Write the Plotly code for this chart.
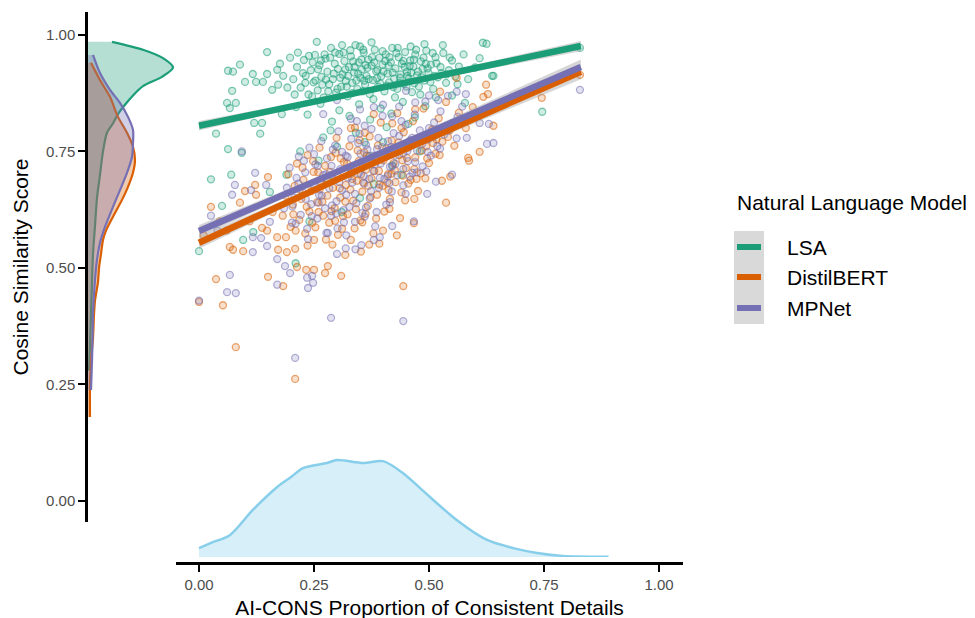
import plotly.graph_objects as go

# ---------------- data ----------------
models = ["LSA", "DistilBERT", "MPNet"]
colors = ["#1B9E77", "#D95F02", "#7570B3"]
rgb = ["27,158,119", "217,95,2", "117,112,179"]

lsa_points = [
    (0.148,0.963),(0.089,0.936),(0.063,0.923),(0.074,0.921),(0.117,0.916),(0.100,0.899),(0.124,0.899),
    (0.072,0.880),(0.061,0.854),(0.080,0.854),(0.067,0.843),(0.198,0.951),(0.176,0.938),(0.170,0.925),
    (0.148,0.916),(0.139,0.899),(0.159,0.882),(0.172,0.893),
    (0.205,0.905),(0.213,0.931),(0.221,0.887),(0.228,0.946),(0.232,0.912),(0.238,0.872),(0.243,0.924),
    (0.249,0.898),(0.252,0.957),(0.258,0.881),(0.262,0.935),(0.266,0.910),(0.271,0.866),(0.275,0.949),
    (0.279,0.921),(0.283,0.894),(0.287,0.972),(0.291,0.905),(0.295,0.938),(0.298,0.876),(0.302,0.927),
    (0.305,0.959),(0.309,0.889),(0.312,0.915),(0.316,0.944),(0.319,0.901),(0.323,0.868),(0.326,0.931),
    (0.330,0.954),(0.333,0.897),(0.337,0.919),(0.340,0.978),(0.344,0.884),(0.347,0.941),(0.351,0.908),
    (0.354,0.926),(0.358,0.962),(0.361,0.893),(0.364,0.912),(0.368,0.947),(0.371,0.873),(0.375,0.934),
    (0.378,0.903),(0.382,0.968),(0.385,0.922),(0.389,0.889),(0.392,0.951),(0.396,0.911),(0.399,0.936),
    (0.403,0.879),(0.406,0.958),(0.410,0.917),(0.413,0.898),(0.417,0.941),(0.420,0.972),(0.424,0.906),
    (0.427,0.928),(0.431,0.884),(0.434,0.952),(0.438,0.915),(0.441,0.938),(0.445,0.895),(0.448,0.963),
    (0.452,0.921),(0.456,0.906),(0.459,0.945),(0.463,0.877),(0.466,0.932),(0.470,0.958),(0.474,0.913),
    (0.478,0.889),(0.482,0.943),(0.486,0.927),(0.490,0.902),(0.494,0.966),(0.499,0.918),(0.504,0.936),
    (0.509,0.884),(0.514,0.952),(0.519,0.909),(0.525,0.931),(0.531,0.961),(0.537,0.897),(0.543,0.924),
    (0.550,0.945),(0.557,0.911),(0.565,0.932),(0.575,0.958),
    (0.226,0.918),(0.247,0.941),(0.268,0.893),(0.293,0.917),(0.318,0.926),(0.342,0.902),(0.366,0.929),
    (0.387,0.907),(0.412,0.934),(0.436,0.897),(0.461,0.919),(0.488,0.951),(0.512,0.912),(0.285,0.951),
    (0.335,0.943),(0.376,0.952),(0.422,0.888),(0.468,0.896),(0.253,0.902),(0.301,0.884),(0.356,0.879),
    (0.401,0.921),(0.447,0.931),(0.497,0.928),(0.538,0.915),
    (0.215,0.962),(0.231,0.897),(0.246,0.868),(0.259,0.926),(0.273,0.958),(0.281,0.879),(0.296,0.962),
    (0.307,0.908),(0.321,0.889),(0.329,0.967),(0.338,0.931),(0.346,0.917),(0.353,0.947),(0.362,0.935),
    (0.369,0.905),(0.381,0.941),(0.388,0.925),(0.394,0.896),(0.405,0.944),(0.414,0.952),(0.421,0.919),
    (0.429,0.961),(0.437,0.908),(0.444,0.944),(0.451,0.889),(0.458,0.933),(0.467,0.947),(0.476,0.921),
    (0.484,0.909),(0.493,0.938),(0.503,0.899),(0.516,0.939),(0.527,0.918),(0.545,0.951),(0.562,0.894),
    (0.183,0.912),(0.192,0.887),(0.208,0.872),(0.239,0.955),(0.265,0.945),(0.314,0.962),(0.357,0.968),
    (0.399,0.965),(0.432,0.972),(0.472,0.968),(0.508,0.961),(0.333,0.875),(0.379,0.862),(0.426,0.866),
    (0.481,0.872),(0.276,0.904),(0.324,0.912),(0.359,0.902),(0.408,0.891),(0.453,0.912),
    (0.617,0.983),(0.625,0.981),(0.828,0.972),(0.637,0.912),(0.585,0.905),(0.578,0.854),(0.640,0.912),
    (0.746,0.835),(0.600,0.930),(0.610,0.950),
    (0.256,0.985),(0.311,0.978),(0.375,0.984),(0.350,0.975),(0.460,0.975),(0.530,0.978),(0.490,0.980),
    (0.211,0.845),(0.236,0.829),(0.264,0.852),(0.289,0.814),(0.305,0.838),(0.327,0.826),(0.348,0.851),
    (0.372,0.818),(0.395,0.842),(0.418,0.831),(0.443,0.856),(0.469,0.823),(0.492,0.847),(0.515,0.866),
    (0.286,0.795),(0.341,0.790),(0.408,0.802),(0.455,0.809),(0.120,0.811),(0.137,0.811),(0.133,0.788),
    (0.037,0.788),(0.180,0.830),(0.550,0.870),
    (0.000,0.536),(0.026,0.690),(0.070,0.700),(0.050,0.633),(0.096,0.560),(0.118,0.577),(0.210,0.510),
    (0.154,0.663),(0.350,0.650),(0.063,0.755),(0.093,0.747),(0.220,0.750),(0.260,0.730),(0.300,0.760),
    (0.330,0.710),(0.370,0.740),(0.400,0.770),(0.420,0.720),(0.450,0.760),(0.280,0.690),(0.380,0.680),
    (0.310,0.620),(0.240,0.600),(0.190,0.700),(0.440,0.700),(0.480,0.750),(0.360,0.770),(0.270,0.780),
]

bert_points = [
    (0.026,0.631),(0.089,0.640),(0.100,0.665),(0.124,0.657),(0.122,0.678),(0.150,0.695),(0.074,0.539),
    (0.067,0.545),(0.096,0.536),(0.137,0.586),(0.148,0.580),(0.170,0.566),(0.189,0.566),(0.172,0.539),
    (0.191,0.534),(0.209,0.541),(0.213,0.502),(0.233,0.496),(0.250,0.496),(0.280,0.504),(0.274,0.489),
    (0.309,0.483),(0.037,0.476),(0.150,0.481),(0.183,0.461),(0.000,0.427),(0.052,0.420),(0.080,0.330),
    (0.209,0.262),(0.468,0.648),(0.537,0.640),(0.467,0.596),(0.444,0.461),(0.437,0.607),(0.528,0.687),
    (0.546,0.696),(0.587,0.730),(0.476,0.665),(0.828,0.914),(0.745,0.865),(0.624,0.893),(0.628,0.873),
    (0.618,0.867),(0.560,0.908),(0.524,0.878),(0.640,0.805),(0.610,0.749),(0.585,0.736),(0.010,0.570),
    (0.045,0.600),(0.060,0.580),(0.110,0.600),(0.160,0.620),
    (0.182,0.612),(0.188,0.655),(0.194,0.701),(0.199,0.588),(0.204,0.636),(0.208,0.676),(0.213,0.724),
    (0.218,0.603),(0.222,0.648),(0.227,0.689),(0.231,0.574),(0.236,0.742),(0.240,0.621),(0.244,0.665),
    (0.249,0.706),(0.253,0.587),(0.257,0.641),(0.262,0.758),(0.266,0.683),(0.270,0.612),(0.274,0.719),
    (0.279,0.655),(0.283,0.597),(0.287,0.738),(0.291,0.672),(0.295,0.628),(0.299,0.779),(0.303,0.696),
    (0.307,0.651),(0.311,0.584),(0.315,0.727),(0.319,0.678),(0.323,0.615),(0.327,0.761),(0.331,0.702),
    (0.335,0.644),(0.339,0.801),(0.343,0.687),(0.347,0.729),(0.351,0.602),(0.355,0.664),(0.359,0.748),
    (0.363,0.711),(0.367,0.633),(0.371,0.782),(0.375,0.692),(0.379,0.574),(0.383,0.739),(0.387,0.657),
    (0.391,0.708),(0.395,0.812),(0.399,0.676),(0.403,0.621),(0.407,0.756),(0.411,0.701),(0.415,0.648),
    (0.419,0.773),(0.423,0.725),(0.427,0.684),(0.431,0.832),(0.435,0.742),(0.440,0.662),(0.445,0.791),
    (0.450,0.714),(0.455,0.758),(0.460,0.689),(0.465,0.815),(0.470,0.737),(0.476,0.779),(0.482,0.703),
    (0.488,0.842),(0.494,0.761),(0.500,0.725),(0.507,0.797),(0.514,0.745),(0.521,0.821),(0.529,0.771),
    (0.537,0.856),(0.545,0.795),(0.555,0.762),(0.565,0.833),(0.580,0.800),(0.595,0.845),
    (0.262,0.668),(0.285,0.706),(0.308,0.735),(0.329,0.668),(0.352,0.701),(0.374,0.725),(0.396,0.744),
    (0.418,0.702),(0.442,0.731),(0.468,0.712),(0.492,0.692),(0.516,0.776),(0.345,0.752),(0.318,0.642),
    (0.296,0.601),(0.368,0.676),(0.412,0.667),(0.389,0.763),(0.455,0.681),(0.248,0.729),(0.225,0.715),
    (0.355,0.598),(0.330,0.560),(0.290,0.550),(0.370,0.550),(0.400,0.580),(0.430,0.570),(0.250,0.560),
    (0.205,0.615),(0.219,0.668),(0.234,0.631),(0.246,0.597),(0.259,0.705),(0.268,0.642),(0.277,0.688),
    (0.288,0.622),(0.297,0.747),(0.306,0.671),(0.313,0.611),(0.322,0.724),(0.333,0.691),(0.341,0.626),
    (0.349,0.774),(0.357,0.683),(0.365,0.741),(0.373,0.652),(0.381,0.708),(0.392,0.679),(0.401,0.731),
    (0.409,0.683),(0.417,0.745),(0.426,0.709),(0.434,0.769),(0.443,0.698),(0.452,0.736),(0.462,0.765),
    (0.473,0.691),(0.484,0.752),(0.496,0.735),(0.509,0.768),(0.523,0.742),(0.541,0.781),(0.561,0.811),
    (0.302,0.571),(0.338,0.585),(0.362,0.616),(0.385,0.606),(0.414,0.627),(0.448,0.645),(0.276,0.561),
    (0.236,0.548),(0.318,0.528),(0.352,0.535),(0.392,0.552),(0.210,0.580),(0.260,0.620),(0.330,0.800),
    (0.380,0.830),(0.420,0.810),(0.470,0.840),(0.500,0.780),(0.440,0.800),(0.360,0.790),
]

mpnet_points = [
    (0.026,0.612),(0.072,0.657),(0.113,0.667),(0.078,0.678),(0.122,0.704),(0.146,0.678),(0.117,0.534),
    (0.117,0.566),(0.135,0.564),(0.154,0.599),(0.148,0.547),(0.170,0.519),(0.187,0.504),(0.198,0.489),
    (0.235,0.479),(0.246,0.483),(0.248,0.468),(0.237,0.457),(0.067,0.485),(0.170,0.464),(0.061,0.448),
    (0.080,0.446),(0.287,0.393),(0.209,0.307),(0.444,0.386),(0.496,0.659),(0.515,0.685),(0.550,0.700),
    (0.467,0.600),(0.828,0.882),(0.560,0.878),(0.580,0.873),(0.630,0.809),(0.610,0.811),(0.582,0.779),
    (0.626,0.766),(0.640,0.768),(0.093,0.750),(0.040,0.580),(0.000,0.430),
    (0.300,0.860),(0.350,0.840),(0.450,0.880),(0.500,0.870),(0.400,0.850),(0.520,0.860),(0.270,0.830),
    (0.185,0.628),(0.191,0.672),(0.197,0.715),(0.202,0.597),(0.207,0.651),(0.212,0.693),(0.217,0.739),
    (0.221,0.614),(0.226,0.662),(0.231,0.705),(0.235,0.584),(0.240,0.758),(0.244,0.637),(0.248,0.681),
    (0.253,0.722),(0.257,0.606),(0.261,0.657),(0.266,0.772),(0.270,0.699),(0.274,0.628),(0.278,0.735),
    (0.283,0.671),(0.287,0.612),(0.291,0.754),(0.295,0.688),(0.299,0.643),(0.303,0.793),(0.307,0.712),
    (0.311,0.667),(0.315,0.598),(0.319,0.741),(0.323,0.694),(0.327,0.631),(0.331,0.777),(0.335,0.718),
    (0.339,0.659),(0.343,0.815),(0.347,0.703),(0.351,0.745),(0.355,0.618),(0.359,0.681),(0.363,0.764),
    (0.367,0.727),(0.371,0.649),(0.375,0.798),(0.379,0.708),(0.383,0.589),(0.387,0.755),(0.391,0.672),
    (0.395,0.724),(0.399,0.826),(0.403,0.691),(0.407,0.636),(0.411,0.772),(0.415,0.717),(0.419,0.664),
    (0.423,0.789),(0.427,0.741),(0.431,0.699),(0.435,0.846),(0.439,0.758),(0.444,0.677),(0.449,0.807),
    (0.454,0.729),(0.459,0.774),(0.464,0.704),(0.469,0.829),(0.474,0.752),(0.480,0.795),(0.486,0.718),
    (0.492,0.857),(0.498,0.776),(0.504,0.741),(0.511,0.812),(0.518,0.761),(0.525,0.836),(0.533,0.786),
    (0.541,0.869),(0.550,0.810),(0.560,0.778),(0.572,0.846),(0.590,0.820),
    (0.264,0.684),(0.288,0.719),(0.311,0.749),(0.333,0.683),(0.356,0.716),(0.377,0.741),(0.398,0.759),
    (0.420,0.718),(0.444,0.746),(0.470,0.727),(0.494,0.707),(0.518,0.790),(0.346,0.768),(0.320,0.657),
    (0.298,0.617),(0.370,0.691),(0.414,0.682),(0.390,0.779),(0.458,0.696),(0.250,0.744),(0.228,0.730),
    (0.360,0.610),(0.320,0.570),(0.280,0.575),(0.380,0.560),(0.420,0.590),(0.300,0.530),(0.340,0.540),
    (0.203,0.632),(0.216,0.681),(0.232,0.648),(0.245,0.611),(0.258,0.719),(0.267,0.655),(0.276,0.701),
    (0.289,0.634),(0.296,0.763),(0.305,0.684),(0.314,0.624),(0.323,0.738),(0.332,0.705),(0.342,0.639),
    (0.349,0.788),(0.358,0.697),(0.366,0.754),(0.374,0.665),(0.382,0.722),(0.393,0.693),(0.402,0.745),
    (0.410,0.697),(0.418,0.759),(0.427,0.723),(0.435,0.783),(0.444,0.712),(0.453,0.751),(0.463,0.779),
    (0.474,0.705),(0.485,0.766),(0.497,0.749),(0.510,0.782),(0.524,0.756),(0.542,0.795),(0.562,0.824),
    (0.301,0.585),(0.339,0.599),(0.363,0.630),(0.386,0.620),(0.415,0.641),(0.449,0.659),(0.277,0.575),
    (0.237,0.562),(0.319,0.542),(0.353,0.549),(0.393,0.566),(0.210,0.595),(0.260,0.640),(0.330,0.820),
    (0.380,0.845),(0.420,0.825),(0.470,0.855),(0.500,0.800),(0.440,0.815),(0.360,0.805),
]

# fitted regression lines (lm) with standard-error half widths
fit_x = [0.0, 0.35, 0.83]
fit_lsa = [0.805, 0.877, 0.976]
fit_bert = [0.554, 0.712, 0.921]
fit_mpnet = [0.579, 0.728, 0.931]
se_lsa = [0.010, 0.003, 0.011]
se_bert = [0.013, 0.004, 0.016]
se_mpnet = [0.013, 0.004, 0.016]

# marginal density of the similarity score for each model
lsa_dens_at = [0.28, 0.33, 0.40, 0.47, 0.53, 0.59, 0.65, 0.70, 0.75, 0.79, 0.81, 0.83, 0.85, 0.87,
               0.89, 0.91, 0.93, 0.95, 0.968, 0.985]
lsa_dens = [0.11, 0.22, 0.33, 0.44, 0.55, 0.77, 0.99, 1.32, 1.65, 2.09, 2.75, 3.30, 4.07, 4.95,
            6.05, 8.14, 9.35, 8.25, 6.05, 2.64]
bert_dens_at = [0.18, 0.25, 0.30, 0.35, 0.40, 0.43, 0.47, 0.50, 0.53, 0.56, 0.58, 0.61, 0.646, 0.674,
                0.704, 0.732, 0.76, 0.79, 0.824, 0.867, 0.903, 0.94]
bert_dens = [0.22, 0.22, 0.33, 0.55, 0.66, 0.77, 1.10, 1.21, 1.43, 1.65, 1.98, 2.75, 3.74, 4.40,
             4.95, 5.17, 4.95, 4.29, 3.30, 2.42, 1.32, 0.33]
mpnet_dens_at = [0.238, 0.30, 0.35, 0.403, 0.474, 0.517, 0.554, 0.588, 0.631, 0.667, 0.704, 0.738,
                 0.768, 0.796, 0.824, 0.854, 0.882, 0.918, 0.957]
mpnet_dens = [0.33, 0.44, 0.50, 0.55, 0.77, 0.99, 1.32, 1.87, 2.75, 3.52, 4.29, 4.84, 4.95, 4.95,
              4.40, 3.52, 2.42, 1.32, 0.55]

# marginal density of AI-CONS proportion
cons_at = [0.0, 0.03, 0.067, 0.117, 0.17, 0.20, 0.226, 0.278, 0.30, 0.357, 0.40, 0.443, 0.502, 0.56,
           0.626, 0.683, 0.735, 0.79, 0.89]
cons_dens = [0.24, 0.40, 0.59, 1.27, 1.89, 2.16, 2.40, 2.54, 2.62, 2.54, 2.59, 2.27, 1.62, 1.00,
             0.46, 0.24, 0.11, 0.03, 0.01]

x_ticks = [0.0, 0.25, 0.5, 0.75, 1.0]
y_ticks = [0.0, 0.25, 0.5, 0.75, 1.0]
tick_text = ["0.00", "0.25", "0.50", "0.75", "1.00"]

point_sets = [lsa_points, bert_points, mpnet_points]
fits = [fit_lsa, fit_bert, fit_mpnet]
ses = [se_lsa, se_bert, se_mpnet]
dens_at = [lsa_dens_at, bert_dens_at, mpnet_dens_at]
dens = [lsa_dens, bert_dens, mpnet_dens]

FONT = "Liberation Sans, Arial, Helvetica, sans-serif"
fig = go.Figure()

# scatter points
for name, pts, c in zip(models, point_sets, rgb):
    fig.add_trace(go.Scatter(
        x=[p[0] for p in pts], y=[p[1] for p in pts], mode="markers", name=name,
        marker=dict(size=7, color=f"rgba({c},0.2)", line=dict(color=f"rgba({c},0.55)", width=1.3)),
        showlegend=False, hoverinfo="skip", xaxis="x", yaxis="y"))

# standard-error bands and fitted lines
for f, s in zip(fits, ses):
    upper = [a + b for a, b in zip(f, s)]
    lower = [a - b for a, b in zip(f, s)]
    fig.add_trace(go.Scatter(
        x=fit_x + fit_x[::-1], y=upper + lower[::-1], fill="toself",
        fillcolor="rgba(153,153,153,0.4)", line=dict(width=0), mode="lines",
        showlegend=False, hoverinfo="skip"))
for name, f, col in zip(models, fits, colors):
    fig.add_trace(go.Scatter(x=fit_x, y=f, mode="lines", line=dict(color=col, width=6.5),
                             showlegend=False, hoverinfo="skip"))

# y marginal densities
for name, at, d, col, c in zip(models, dens_at, dens, colors, rgb):
    fig.add_trace(go.Scatter(
        x=d, y=at, mode="lines", fill="tozerox", fillcolor=f"rgba({c},0.33)",
        line=dict(color=col, width=2.2, shape="spline", smoothing=0.8),
        xaxis="x2", yaxis="y", showlegend=False, hoverinfo="skip"))

# x marginal density
fig.add_trace(go.Scatter(
    x=cons_at, y=cons_dens, mode="lines", fill="tozeroy", fillcolor="rgba(135,206,235,0.33)",
    line=dict(color="#87CEEB", width=2.5, shape="spline", smoothing=0.8),
    xaxis="x", yaxis="y3", showlegend=False, hoverinfo="skip"))

# layout helpers: the page puts the figure at an 8 px body offset, so the
# plot area spans page pixels x 86..683, y 12..563 (figure pixels minus 8)
OFF = 8
L, T = 86 - OFF, 12 - OFF
FW, FH = 975, 618
R, B = FW - (683 - OFF), FH - (563 - OFF)
W, H = FW - L - R, FH - T - B
def px(xp):
    return (xp - OFF - L) / W
def py(yp):
    return (FH - B - (yp - OFF)) / H

axis_common = dict(showgrid=False, zeroline=False, showline=True, linecolor="black", linewidth=2.5,
                   ticks="outside", ticklen=7, tickwidth=2, tickcolor="black", automargin=False,
                   tickfont=dict(family=FONT, size=15, color="#4D4D4D"))

fig.update_layout(
    width=FW, height=FH, plot_bgcolor="white", paper_bgcolor="white",
    margin=dict(l=L, r=R, t=T, b=B, autoexpand=False), showlegend=False,
    font=dict(family=FONT),
    xaxis=dict(domain=[px(176), 1], range=[-0.05, 1.052], anchor="free", position=0,
               tickvals=x_ticks, ticktext=tick_text,
               title=dict(text="AI-CONS Proportion of Consistent Details",
                          font=dict(family=FONT, size=21, color="black"), standoff=8),
               **axis_common),
    yaxis=dict(domain=[py(522), 1], range=[-0.045, 1.049], anchor="free", position=0,
               tickvals=y_ticks, ticktext=tick_text,
               title=dict(text="Cosine Similarity Score",
                          font=dict(family=FONT, size=21, color="black"), standoff=10),
               **axis_common),
    xaxis2=dict(domain=[0, px(176)], range=[-0.22, 9.68], visible=False, anchor="y"),
    yaxis3=dict(domain=[py(557), py(440)], range=[0, 3.16], visible=False, anchor="x"),
)

# legend drawn as shapes + text (ggplot-style keys with grey SE background)
fig.add_shape(type="rect", xref="paper", yref="paper", x0=px(734), x1=px(764), y0=py(324), y1=py(231),
              fillcolor="#D9D9D9", line=dict(width=0), layer="below")
fig.add_annotation(text="Natural Language Model", xref="paper", yref="paper", x=px(735), y=py(202),
                   xanchor="left", yanchor="middle", showarrow=False,
                   font=dict(family=FONT, size=21, color="black"))
for name, col, yk in zip(models, colors, [247, 277, 308]):
    fig.add_shape(type="line", xref="paper", yref="paper", x0=px(737), x1=px(761), y0=py(yk), y1=py(yk),
                  line=dict(color=col, width=6))
    fig.add_annotation(text=name, xref="paper", yref="paper", x=px(785), y=py(yk),
                       xanchor="left", yanchor="middle", showarrow=False,
                       font=dict(family=FONT, size=21, color="black"))

fig.write_html("out.html")
